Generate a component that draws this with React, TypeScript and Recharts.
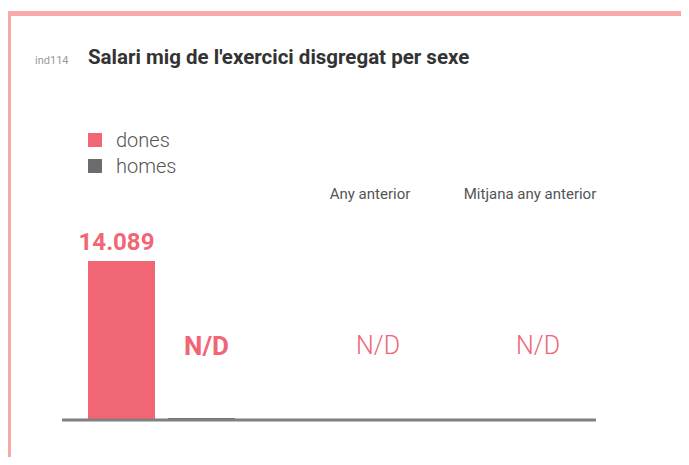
import { BarChart, Bar, XAxis, YAxis, LabelList } from "recharts";

const categories = ["Exercici"];
const seriesNames = ["dones", "homes"];
const donesValues: (number | null)[] = [14089];
const homesValues: (number | null)[] = [null];
const compareLabels = ["Any anterior", "Mitjana any anterior"];
const compareValues: (number | null)[] = [null, null];

const PINK = "#f06674";
const DARK = "#6b6b70";
const BORDER = "#f8aaab";
const FONT = "Roboto, 'Noto Sans', sans-serif";

function fmt(v: number | null | undefined) {
  if (v == null) return "N/D";
  return String(Math.round(v)).replace(/\B(?=(\d{3})+(?!\d))/g, ".");
}

const data = categories.map((c, i) => ({
  name: c,
  dones: donesValues[i] ?? 0,
  homes: homesValues[i] ?? 0,
  donesRaw: donesValues[i],
  homesRaw: homesValues[i],
}));

const colors: Record<string, string> = { dones: PINK, homes: DARK };

function HomesLabel(props: any) {
  const { x, y, width, index } = props;
  const raw = data[index]?.homesRaw;
  return (
    <text
      x={x + width / 2 + 5}
      y={y - 70}
      textAnchor="middle"
      dominantBaseline="middle"
      fill={PINK}
      fontSize={26}
      fontWeight={700}
      fontFamily={FONT}
    >
      {fmt(raw)}
    </text>
  );
}

export default function App() {
  return (
    <div
      style={{
        position: "relative",
        width: 689,
        height: 465,
        margin: -8,
        background: "#fff",
        overflow: "hidden",
        fontFamily: FONT,
      }}
    >
      <div style={{ position: "absolute", left: 0, top: 0, width: 4, height: 465, background: "#c8c8c8" }} />
      <div
        style={{
          position: "absolute",
          left: 6,
          top: 11,
          width: 700,
          height: 500,
          borderLeft: `5px solid ${BORDER}`,
          borderTop: `5px solid ${BORDER}`,
        }}
      />
      <div style={{ position: "absolute", left: 35, top: 54, fontSize: 11, color: "#999" }}>ind114</div>
      <div
        style={{
          position: "absolute",
          left: 88,
          top: 45,
          fontSize: 20.5,
          fontWeight: 700,
          color: "#333",
          whiteSpace: "nowrap",
        }}
      >
        Salari mig de l'exercici disgregat per sexe
      </div>

      {/* legend */}
      <div style={{ position: "absolute", left: 88, top: 127 }}>
        {seriesNames.map((s) => (
          <div key={s} style={{ display: "flex", alignItems: "center", height: 26 }}>
            <div style={{ width: 14, height: 14, background: colors[s], marginRight: 14 }} />
            <span style={{ fontSize: 20, color: "#555", fontWeight: 300 }}>{s}</span>
          </div>
        ))}
      </div>

      {/* comparison columns */}
      {compareLabels.map((l, i) => {
        const cx = [370, 530][i];
        const vx = [378, 538][i];
        return (
          <div key={l}>
            <div
              style={{
                position: "absolute",
                left: cx - 100,
                width: 200,
                top: 185,
                textAlign: "center",
                fontSize: 15,
                color: "#555",
              }}
            >
              {l}
            </div>
            <div
              style={{
                position: "absolute",
                left: vx - 100,
                width: 200,
                top: 331,
                textAlign: "center",
                fontSize: 25,
                fontWeight: 300,
                color: PINK,
              }}
            >
              {fmt(compareValues[i])}
            </div>
          </div>
        );
      })}

      <div style={{ position: "absolute", left: 0, top: 0 }}>
        <BarChart
          width={689}
          height={465}
          data={data}
          margin={{ top: 261, right: 93, bottom: 0, left: 62 }}
          barSize={67}
          barGap={13}
        >
          <XAxis
            dataKey="name"
            tick={false}
            tickLine={false}
            height={45}
            padding={{ left: 0, right: 335 }}
            axisLine={{ stroke: "#808080", strokeWidth: 3 }}
          />
          <YAxis hide domain={[0, "dataMax"]} />
          <Bar dataKey="dones" fill={PINK} isAnimationActive={false}>
            <LabelList
              dataKey="donesRaw"
              position="top"
              offset={11}
              formatter={(v: any) => fmt(v)}
              fill={PINK}
              fontSize={24}
              fontWeight={700}
              fontFamily={FONT}
              dx={-5}
            />
          </Bar>
          <Bar dataKey="homes" fill={DARK} minPointSize={2} isAnimationActive={false}>
            <LabelList dataKey="homesRaw" content={HomesLabel} />
          </Bar>
        </BarChart>
      </div>
    </div>
  );
}
